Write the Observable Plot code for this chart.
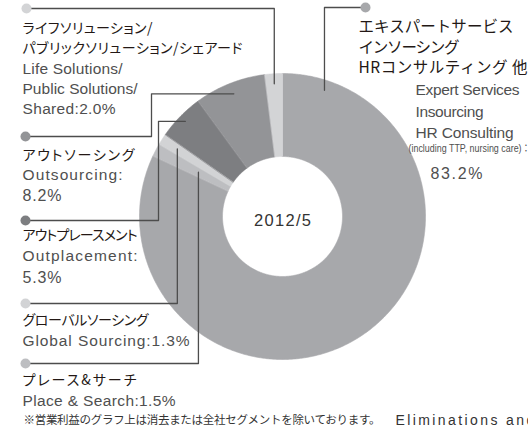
<!DOCTYPE html>
<html><head><meta charset="utf-8">
<script src="https://cdn.jsdelivr.net/npm/d3@7"></script>
<script src="https://cdn.jsdelivr.net/npm/@observablehq/plot@0.6"></script>
<style>
body{margin:0;background:#fff}
</style>
</head><body><div id="chart"></div>
<script>
// ---- data ----
const segments = ["Expert Services", "Place & Search", "Global Sourcing", "Outplacement", "Outsourcing", "Life Solutions"];
const values = [83.2, 1.5, 1.3, 5.3, 8.2, 2.0];
const colors = ["#a7a8ab", "#bdbec1", "#d2d3d5", "#7d7e81", "#939497", "#d3d4d6"];
const labelsJa = [
  ["エキスパートサービス", "インソーシング", "HRコンサルティング 他"],
  ["プレース&サーチ"],
  ["グローバルソーシング"],
  ["アウトプレースメント"],
  ["アウトソーシング"],
  ["ライフソリューション/", "パブリックソリューション/シェアード"]
];
const labelsEn = [
  ["Expert Services", "Insourcing", "HR Consulting", "(including TTP, nursing care)：", "{v}%"],
  ["Place & Search:{v}%"],
  ["Global Sourcing:{v}%"],
  ["Outplacement:", "{v}%"],
  ["Outsourcing:", "{v}%"],
  ["Life Solutions/", "Public Solutions/", "Shared:{v}%"]
];
const centerLabel = "2012/5";
const footnoteJa = "※営業利益のグラフ上は消去または全社セグメントを除いております。";
const footnoteEn = "Eliminations and Corporate are excluded from the operating income graph.";

// ---- layout ----
const W = 528, H = 441;
const cx = 282, cy = 216, rOuter = 143, rInner = 60;
// per segment: label line positions, fitted widths, leader geometry
const layout = [
  {jaX: 358, jaY: [27, 48, 68], jaW: [155, 101, 169], enX: [415, 415, 415, 408, 430], enY: [90, 112, 133, 148, 173], enW: [104, 68, 98, 122, 52], dot: [365, 7], elbow: null, r: 133, angle: 18.4},
  {jaX: 22, jaY: [380], jaW: [114], enX: [22], enY: [401], enW: [153], dot: [25, 363], elbow: null, r: 95},
  {jaX: 22, jaY: [320], jaW: [126], enX: [22], enY: [341], enW: [167], dot: [25, 303], elbow: null, r: 125},
  {jaX: 22, jaY: [235], jaW: [115], enX: [22, 22], enY: [256, 277], enW: [115, 39], dot: [25, 220], elbow: 158, r: 136},
  {jaX: 22, jaY: [155], jaW: [112], enX: [22, 22], enY: [175, 195], enW: [100, 39], dot: [25, 136], elbow: 151, r: 132},
  {jaX: 22, jaY: [28, 48], jaW: [130, 220], enX: [22, 22, 22], enY: [69, 89, 109], enW: [100, 115, 93], dot: [26, 8], elbow: null, r: 133}
];

const total = d3.sum(values);
const polar = (a, r) => ({x: cx + r * Math.sin(a), y: cy - r * Math.cos(a)});

// slice polygons
const slicePts = [];
const mids = [];
let acc = 0;
segments.forEach((seg, i) => {
  const a0 = acc / total * 2 * Math.PI;
  acc += values[i];
  const a1 = acc / total * 2 * Math.PI;
  mids.push((a0 + a1) / 2);
  const n = Math.max(2, Math.ceil((a1 - a0) / (Math.PI / 360)));
  for (let k = 0; k <= n; k++) slicePts.push({seg, ...polar(a0 + (a1 - a0) * k / n, rOuter)});
  for (let k = n; k >= 0; k--) slicePts.push({seg, ...polar(a0 + (a1 - a0) * k / n, rInner)});
});

// leader lines
const leaderPts = [], dots = [];
segments.forEach((seg, i) => {
  const L = layout[i];
  const a = L.angle != null ? L.angle * Math.PI / 180 : mids[i];
  const end = polar(a, L.r);
  const [dx, dy] = L.dot;
  const ex = L.elbow != null ? L.elbow : end.x;
  leaderPts.push({seg, x: dx, y: dy}, {seg, x: ex, y: dy}, {seg, x: ex, y: end.y});
  if (L.elbow != null) leaderPts.push({seg, x: end.x, y: end.y});
  dots.push({seg, x: dx, y: dy});
});

// text lines
const jaLines = [], enLines = [], smallLines = [], valLines = [];
const fit = new Map();
segments.forEach((seg, i) => {
  const L = layout[i];
  labelsJa[i].forEach((t, k) => {
    jaLines.push({seg, text: t, x: L.jaX, y: L.jaY[k], big: i === 0});
    fit.set(t, {w: L.jaW[k], adj: "spacing", palt: i !== 0});
  });
  labelsEn[i].forEach((t, k) => {
    const text = t.replace("{v}", values[i].toFixed(1));
    const row = {seg, text, x: L.enX[k], y: L.enY[k]};
    if (t.startsWith("(")) { smallLines.push(row); fit.set(text, {w: L.enW[k], adj: "spacingAndGlyphs"}); }
    else if (t.startsWith("{v}")) { valLines.push(row); fit.set(text, {w: L.enW[k], adj: "spacing"}); }
    else { enLines.push(row); fit.set(text, {w: L.enW[k], adj: "spacing"}); }
  });
});
fit.set(centerLabel, {w: 57, adj: "spacing"});
fit.set(footnoteJa, {w: 357, adj: "spacing"});

const EN = "'Liberation Sans', Arial, 'Noto Sans CJK JP', sans-serif";
const JA = "'Noto Sans CJK JP', sans-serif";
const txt = (data, o) => Plot.text(data, {x: "x", y: "y", text: "text", textAnchor: "start", lineAnchor: "middle", ...o});

const chart = Plot.plot({
  width: W, height: H, margin: 0,
  x: {domain: [0, W], range: [0, W], axis: null},
  y: {domain: [0, H], range: [0, H], axis: null},
  color: {domain: segments, range: colors},
  style: {background: "#fff"},
  marks: [
    Plot.line(slicePts, {x: "x", y: "y", z: "seg", fill: "seg", stroke: "seg", strokeWidth: 0.6, curve: "linear-closed"}),
    Plot.line(leaderPts, {x: "x", y: "y", z: "seg", stroke: "#4d4d4d", strokeWidth: 1.3}),
    Plot.dot(dots, {x: "x", y: "y", r: 5, fill: "seg"}),
    txt(jaLines.filter(d => !d.big), {fontSize: 14, fontFamily: JA, fill: "#231815"}),
    txt(jaLines.filter(d => d.big), {fontSize: 15.5, fontFamily: JA, fill: "#231815"}),
    txt(enLines, {fontSize: 15.5, fontFamily: EN, fill: "#4f4f4f"}),
    txt(valLines, {fontSize: 16, fontFamily: EN, fill: "#4f4f4f"}),
    txt(smallLines, {fontSize: 10, fontFamily: EN, fill: "#4f4f4f"}),
    Plot.text([centerLabel], {x: () => cx, y: () => cy + 4, text: d => d, textAnchor: "middle", lineAnchor: "middle", fontSize: 16.5, fontFamily: EN, fill: "#333"}),
    Plot.text([footnoteJa], {x: () => 23, y: () => 420, text: d => d, textAnchor: "start", lineAnchor: "middle", fontSize: 11.5, fontFamily: JA, fill: "#333"}),
    Plot.text([footnoteEn], {x: () => 395, y: () => 420, text: d => d, textAnchor: "start", lineAnchor: "middle", fontSize: 14, fontFamily: EN, fill: "#333"})
  ]
});
// fit text widths to the reference layout
chart.querySelectorAll("text").forEach(el => {
  const f = fit.get(el.textContent);
  if (f) {
    el.setAttribute("textLength", f.w);
    el.setAttribute("lengthAdjust", f.adj);
    if (f.palt) el.style.fontFeatureSettings = '"palt"';
  }
  if (el.textContent === footnoteEn) el.style.letterSpacing = "2.4px";
});
document.getElementById("chart").appendChild(chart);
</script>
</body></html>
